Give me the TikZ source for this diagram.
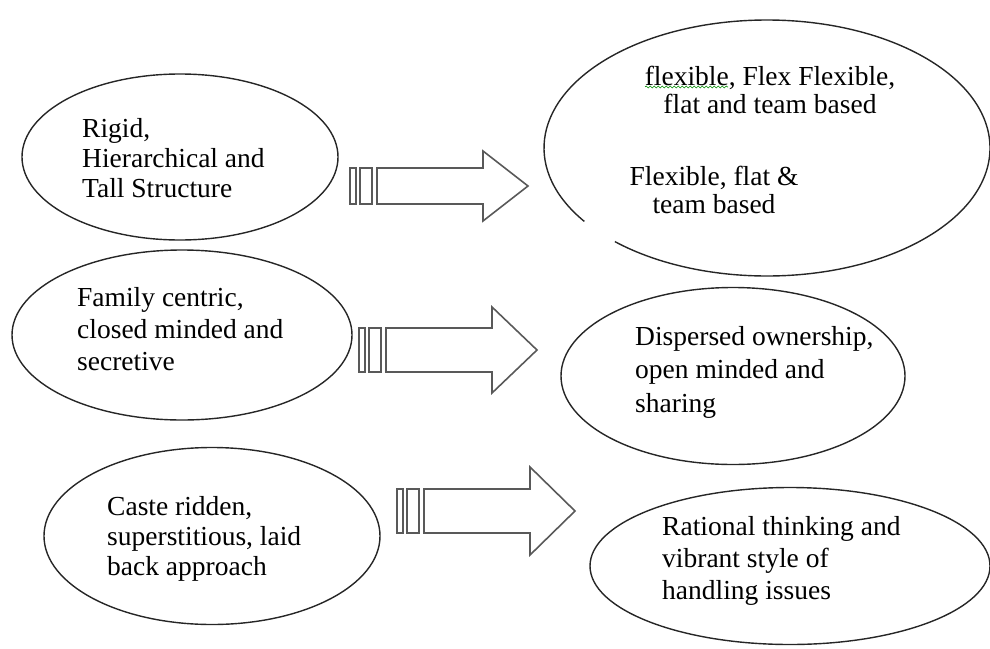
\documentclass[tikz,border=0pt]{standalone}
\usepackage{fontspec}
\setmainfont{Liberation Serif}
\usetikzlibrary{shapes.geometric,decorations.pathmorphing}
\begin{document}
\begin{tikzpicture}[x=1pt, y=1pt,
    oval/.style={ellipse, draw=black!85, line width=1.4pt, inner sep=0pt},
    blockarrow/.style={draw=black!65, line width=1.6pt, line join=miter},
    words/.style={inner sep=0pt, font=\fontsize{27.5}{30}\selectfont}]
        \useasboundingbox (0,0) rectangle (990,-648);
        % left ellipses
        \node [oval, minimum width=316, minimum height=166] (rigid) at (180,-157) {};
        \node [oval, minimum width=340, minimum height=170] (family) at (182,-335) {};
        \node [oval, minimum width=336, minimum height=177] (caste) at (212,-536) {};
        % right ellipses
        \coordinate (flat) at (767,-148);
        \draw [black!85, line width=1.4pt] (flat) ++(227:223pt and 128pt) arc[start angle=227, end angle=575, x radius=223, y radius=128];
        \node [oval, minimum width=344, minimum height=177] (dispersed) at (733,-376) {};
        \node [oval, minimum width=400, minimum height=157] (rational) at (790,-566) {};
        % texts
        \node [words, align=left, anchor=west] (rigid-t) at (82,-157.6) {Rigid,\\Hierarchical and\\Tall Structure};
        \node [words, align=left, anchor=west, font=\fontsize{27.5}{32}\selectfont] (family-t) at (77,-328.6) {Family centric,\\closed minded and\\secretive};
        \node [words, align=left, anchor=west] (caste-t) at (107,-538.5) {Caste ridden,\\superstitious, laid\\back approach};
        \node [words, align=center, font=\fontsize{27.5}{28}\selectfont] (flat-a) at (770,-89.6) {flexible, Flex Flexible,\\flat and team based};
        \node [words, align=center, font=\fontsize{27.5}{28}\selectfont] (flat-b) at (714,-189.6) {Flexible, flat \&\\team based};
        \node [words, align=left, anchor=west, font=\fontsize{27.5}{33.5}\selectfont] (dispersed-t) at (635,-372) {Dispersed ownership,\\open minded and\\sharing};
        \node [words, align=left, anchor=west, font=\fontsize{27.5}{32}\selectfont] (rational-t) at (662,-560.5) {Rational thinking and\\vibrant style of\\handling issues};
        % spell check squiggle
        \draw [green!55!black, line width=.6pt, decorate, decoration={snake, amplitude=1pt, segment length=4pt}] (645,-87) -- (728,-87);
        % block arrows
        \foreach \x/\y/\s/\h in {350/186/18/35, 359/350/22/43, 397/511/22/44} {
            \draw [blockarrow] (\x,{-\y-\s}) rectangle ({\x+6},{-\y+\s});
            \draw [blockarrow] ({\x+10},{-\y-\s}) rectangle ({\x+22},{-\y+\s});
            \draw [blockarrow] ({\x+27},{-\y+\s}) -- ({\x+133},{-\y+\s}) -- ({\x+133},{-\y+\h})
                -- ({\x+178},-\y) -- ({\x+133},{-\y-\h}) -- ({\x+133},{-\y-\s}) -- ({\x+27},{-\y-\s}) -- cycle;
        }
\end{tikzpicture}
\end{document}
